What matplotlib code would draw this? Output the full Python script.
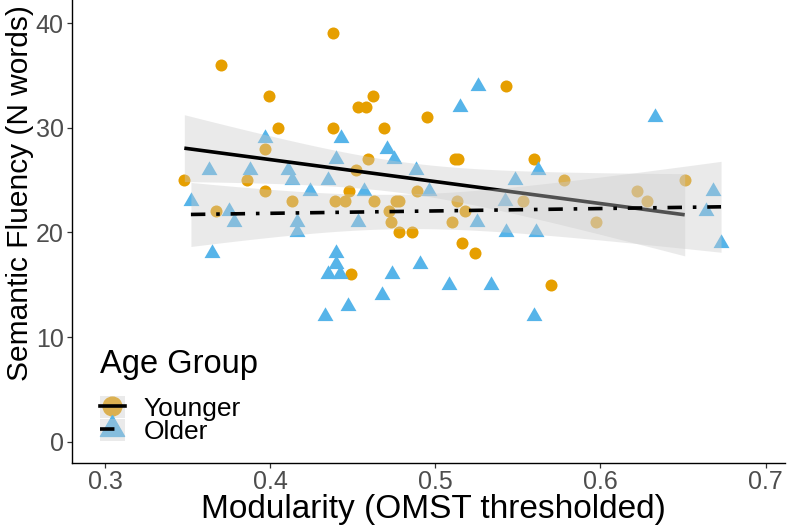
import numpy as np
import matplotlib
matplotlib.use("Agg")
import matplotlib.pyplot as plt
from matplotlib.lines import Line2D
from matplotlib.patches import Patch

plt.rcParams['font.family'] = ['Liberation Sans', 'DejaVu Sans']

# ---- data ----
young_x = [0.348, 0.370, 0.399, 0.405, 0.397, 0.386, 0.397, 0.413, 0.367, 0.438,
           0.543, 0.462, 0.453, 0.458, 0.495, 0.438, 0.469, 0.512, 0.514, 0.560,
           0.459, 0.452, 0.448, 0.489, 0.439, 0.445, 0.463, 0.476, 0.478, 0.513,
           0.553, 0.472, 0.518, 0.473, 0.510, 0.478, 0.486, 0.516, 0.524, 0.449,
           0.570, 0.578, 0.651, 0.622, 0.628, 0.597]
young_y = [25, 36, 33, 30, 28, 25, 24, 23, 22, 39,
           34, 33, 32, 32, 31, 30, 30, 27, 27, 27,
           27, 26, 24, 24, 23, 23, 23, 23, 23, 23,
           23, 22, 22, 21, 21, 20, 20, 19, 18, 16,
           15, 25, 25, 24, 23, 21]
old_x = [0.397, 0.363, 0.388, 0.411, 0.413, 0.424, 0.352, 0.375, 0.378, 0.416,
         0.416, 0.365, 0.526, 0.515, 0.443, 0.471, 0.440, 0.475, 0.488, 0.562,
         0.435, 0.548, 0.457, 0.496, 0.542, 0.453, 0.525, 0.543, 0.561, 0.440,
         0.440, 0.435, 0.442, 0.474, 0.491, 0.508, 0.534, 0.468, 0.447, 0.433,
         0.560, 0.633, 0.668, 0.664, 0.673]
old_y = [29, 26, 26, 26, 25, 24, 23, 22, 21, 21,
         20, 18, 34, 32, 29, 28, 27, 27, 26, 26,
         25, 25, 24, 24, 23, 21, 21, 20, 20, 18,
         17, 16, 16, 16, 17, 15, 15, 14, 13, 12,
         12, 31, 24, 22, 19]
group_labels = ["Younger", "Older"]
legend_title = "Age Group"
x_ticks = [0.3, 0.4, 0.5, 0.6, 0.7]
y_ticks = [0, 10, 20, 30, 40]

ORANGE = "#E69F00"
BLUE = "#56B4E9"
RIB = "#CCCCCC"
RIB_A = 0.4
DOTDASH = (0, (4, 3, 1, 3))

# R pch 17 style triangle (centroid centred)
TRI = [(0, 1.555), (1.347, -0.778), (-1.347, -0.778), (0, 1.555)]


def lm_band(x, y, n_pts=80, t=2.015):
    x = np.asarray(x, float)
    y = np.asarray(y, float)
    b1, b0 = np.polyfit(x, y, 1)
    xs = np.linspace(x.min(), x.max(), n_pts)
    fit = b0 + b1 * xs
    res = y - (b0 + b1 * x)
    n = len(x)
    s = np.sqrt(np.sum(res ** 2) / (n - 2))
    sxx = np.sum((x - x.mean()) ** 2)
    se = s * np.sqrt(1.0 / n + (xs - x.mean()) ** 2 / sxx)
    return xs, fit, fit - t * se, fit + t * se


fig = plt.figure(figsize=(8, 5.31), dpi=100)
ax = fig.add_axes([0.09, 0.1286, 0.891, 0.8714])

ax.scatter(young_x, young_y, s=75, marker='o', color=ORANGE, linewidths=0, zorder=2)
ax.scatter(old_x, old_y, s=175, marker=TRI, color=BLUE, linewidths=0, zorder=2)

xs, f, lo, hi = lm_band(young_x, young_y)
ax.fill_between(xs, lo, hi, color=RIB, alpha=RIB_A, linewidth=0, zorder=3)
ax.plot(xs, f, color='black', lw=2.6, solid_capstyle='butt', zorder=4)

xs, f, lo, hi = lm_band(old_x, old_y)
ax.fill_between(xs, lo, hi, color=RIB, alpha=RIB_A, linewidth=0, zorder=5)
ax.plot(xs, f, color='black', lw=2.6, linestyle=DOTDASH,
        dash_capstyle='butt', zorder=6)

ax.set_xlim(0.280, 0.7116)
ax.set_ylim(-2.0, 42.2)
ax.set_xticks(x_ticks)
ax.set_xticklabels([f"{v:.1f}" for v in x_ticks])
ax.set_yticks(y_ticks)
ax.set_yticklabels([str(v) for v in y_ticks])

for side in ['top', 'right']:
    ax.spines[side].set_visible(False)
for side in ['left', 'bottom']:
    ax.spines[side].set_color('black')
    ax.spines[side].set_linewidth(1.0)

ax.tick_params(axis='both', labelsize=18, labelcolor='#4D4D4D', color='#333333',
               length=3.5, width=0.9, pad=2.5)
ax.tick_params(axis='x', pad=2.0)

ax.set_xlabel("Modularity (OMST thresholded)", fontsize=24, color='black')
ax.set_ylabel("Semantic Fluency (N words)", fontsize=21.5, color='black')
ax.xaxis.set_label_coords(0.507, -0.067)
ax.yaxis.set_label_coords(-0.0535, 0.582)

# legend title
fig.text(100 / 800, 1 - 373 / 531, legend_title, fontsize=23.5, ha='left',
         va='baseline', color='black', zorder=10)

h_young = (Line2D([], [], marker='o', markersize=13.5, color=ORANGE, ls=''),
           Patch(facecolor=RIB, alpha=RIB_A, edgecolor='none'),
           Line2D([], [], color='black', lw=2.6))
h_old = (Line2D([], [], marker=TRI, markersize=20, color=BLUE, ls=''),
         Patch(facecolor=RIB, alpha=RIB_A, edgecolor='none'),
         Line2D([], [], color='black', lw=2.6, linestyle=DOTDASH))

leg = ax.legend([h_young, h_old], group_labels,
                loc='center left', bbox_to_anchor=(100 / 800, 1 - 420 / 531),
                bbox_transform=fig.transFigure, frameon=False, borderpad=0,
                fontsize=19, handlelength=0.93,
                handleheight=0.9, handletextpad=0.72, labelspacing=-0.06,
                borderaxespad=0)
leg.set_zorder(10)

fig.savefig("out.png", dpi=100)
